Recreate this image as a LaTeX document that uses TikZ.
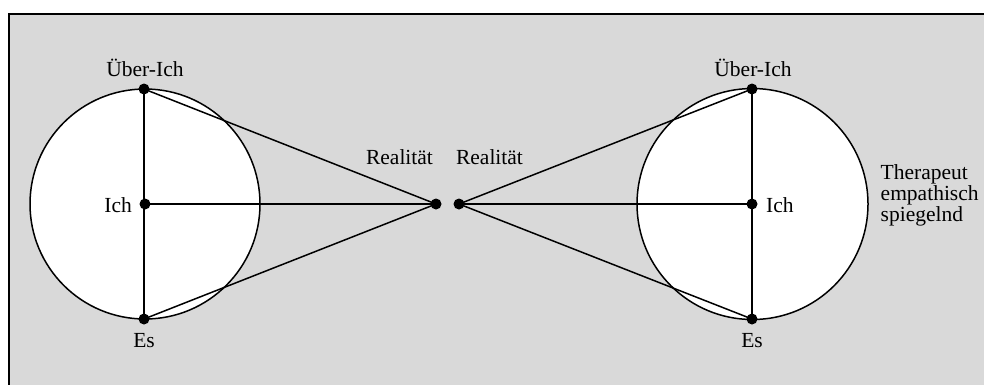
\documentclass[tikz,border=0pt]{standalone}
\usepackage{fontspec}
\setmainfont{Liberation Serif}
\definecolor{bggray}{HTML}{D9D9D9}
\newcommand{\lblfont}{\fontsize{21.5}{21}\selectfont}
\begin{document}
\begin{tikzpicture}[x=1pt,y=-1pt,
  dot/.style={circle,fill=black,inner sep=0pt,minimum size=11pt},
  lbl/.style={inner sep=0pt,node font=\lblfont,font=\lblfont},
  ln/.style={line width=1.5pt},
  ring/.style={line width=1.5pt,fill=white}]
\useasboundingbox (0,0) rectangle (984,384);
\clip (0,0) rectangle (984,384);
\draw[line width=2pt,fill=bggray] (9,14) rectangle (1000,400);
% circles
\draw[ring] (145,204) circle[radius=115];
\draw[ring] (752.5,204) circle[radius=115.5];
% dots
\node[dot] (uL) at (144,89) {};
\node[dot] (iL) at (145,204) {};
\node[dot] (eL) at (144,319) {};
\node[dot] (rL) at (436,204) {};
\node[dot] (rR) at (459,204) {};
\node[dot] (uR) at (752,89) {};
\node[dot] (iR) at (752,204) {};
\node[dot] (eR) at (752,319) {};
% connectors
\draw[ln] (uL.center) -- (eL.center);
\draw[ln] (iL.center) -- (rL.center);
\draw[ln] (uL.center) -- (rL.center);
\draw[ln] (eL.center) -- (rL.center);
\draw[ln] (uR.center) -- (eR.center);
\draw[ln] (rR.center) -- (iR.center);
\draw[ln] (rR.center) -- (uR.center);
\draw[ln] (rR.center) -- (eR.center);
% labels
\node[lbl,anchor=base] (tuL) at (145,76) {Über-Ich};
\node[lbl,anchor=base] (teL) at (144,347) {Es};
\node[lbl,anchor=base east] (tiL) at (132,212) {Ich};
\node[lbl,anchor=base] (trL) at (399.5,164) {Realität};
\node[lbl,anchor=base] (trR) at (489.5,164) {Realität};
\node[lbl,anchor=base] (tuR) at (753,76) {Über-Ich};
\node[lbl,anchor=base] (teR) at (752,347) {Es};
\node[lbl,anchor=base west] (tiR) at (766,212) {Ich};
\node[lbl,anchor=north west,text width=100pt,align=left] (tth) at (880.5,164.5) {\lblfont Therapeut\\empathisch\\spiegelnd};
\end{tikzpicture}
\end{document}
